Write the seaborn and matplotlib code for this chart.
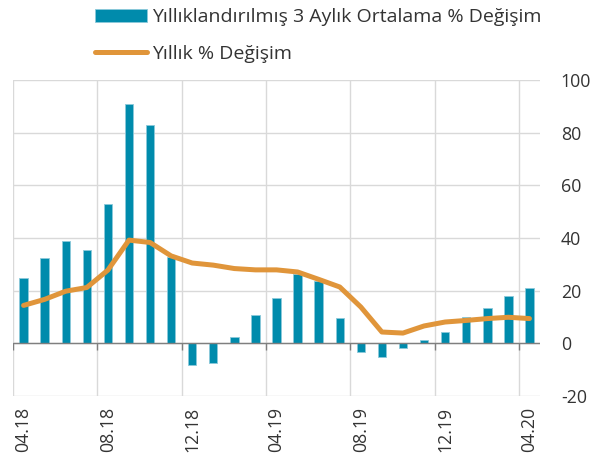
import matplotlib
matplotlib.use("Agg")
import matplotlib.pyplot as plt
import seaborn as sns
import pandas as pd

months = ["04.18", "05.18", "06.18", "07.18", "08.18", "09.18", "10.18", "11.18",
          "12.18", "01.19", "02.19", "03.19", "04.19", "05.19", "06.19", "07.19",
          "08.19", "09.19", "10.19", "11.19", "12.19", "01.20", "02.20", "03.20", "04.20"]
ann_3m = [25.0, 32.3, 38.8, 35.4, 53.1, 90.7, 82.8, 32.8,
          -8.4, -7.5, 2.3, 10.6, 17.4, 26.5, 23.7, 9.8,
          -3.3, -5.2, -1.7, 1.1, 4.3, 10.0, 13.4, 18.1, 21.2]
yoy = [14.4, 16.7, 19.8, 21.2, 27.8, 39.2, 38.3, 33.2,
       30.5, 29.7, 28.4, 27.9, 27.9, 27.1, 24.3, 21.4,
       13.8, 4.3, 3.9, 6.6, 8.1, 8.7, 9.4, 9.9, 9.4]
shown_labels = ["04.18", "08.18", "12.18", "04.19", "08.19", "12.19", "04.20"]

bar_col = "#008BAC"
line_col = "#E0953A"
txt_col = "#333333"

sns.set_style("white")
plt.rcParams["font.family"] = ["Open Sans", "DejaVu Sans"]
plt.rcParams["axes.unicode_minus"] = False

df = pd.DataFrame({"ay": months, "a3": ann_3m, "y": yoy})
df["pos"] = range(len(df))

fig = plt.figure(figsize=(6.03, 4.63), dpi=100)
ax = fig.add_axes([0.0216, 0.1447, 0.8739, 0.6825])

sns.barplot(data=df, x="ay", y="a3", order=months, color=bar_col, width=0.4,
            saturation=1, edgecolor="#8cc9da", linewidth=0.6, ax=ax,
            label="Yıllıklandırılmış 3 Aylık Ortalama % Değişim", zorder=3)
sns.lineplot(data=df, x="pos", y="y", color=line_col, linewidth=3.6, ax=ax,
             label="Yıllık % Değişim", zorder=4)

ax.set_xlim(-0.5, len(months) - 0.5)
ax.set_ylim(-20, 100)
ax.set_xlabel("")
ax.set_ylabel("")

# x labels every 4 months, grid and ticks at category borders
major = [months.index(m) for m in shown_labels]
ax.set_xticks(major)
ax.set_xticklabels(shown_labels, rotation=90, fontsize=12.8, color=txt_col)
ax.set_xticks([p - 0.5 for p in major], minor=True)
ax.tick_params(axis="x", which="both", length=0, pad=8)
ax.grid(True, axis="x", which="minor", color="#d9d9d9", linewidth=1)
ax.vlines([p - 0.5 for p in major], -2.6, 0, color="#7f7f7f", linewidth=1, zorder=5)

ax.yaxis.tick_right()
ax.set_yticks(range(-20, 101, 20))
ax.tick_params(axis="y", length=0, pad=15, labelsize=12.8, labelcolor=txt_col)
ax.grid(True, axis="y", color="#d9d9d9", linewidth=1)
ax.axhline(0, color="#7f7f7f", linewidth=1, zorder=5)
for s in ax.spines.values():
    s.set_visible(False)

ax.legend_.remove()
h, l = ax.get_legend_handles_labels()
bars_first = [1, 0] if "Yıllık" in l[0] else [0, 1]
fig.legend([h[i] for i in bars_first], [l[i] for i in bars_first],
           loc="upper left", bbox_to_anchor=(0.128, 1.02), frameon=False,
           fontsize=14, handlelength=2.7, handletextpad=0.25, labelspacing=0.95,
           labelcolor=txt_col)

fig.savefig("out.png", dpi=100)
